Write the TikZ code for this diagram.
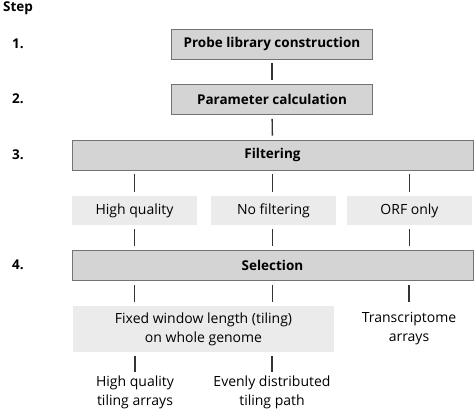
\documentclass[tikz,border=0pt]{standalone}
\usepackage{fontspec}
\setmainfont{Open Sans}
\usepackage{tikz}

\tikzset{
    stepbox/.style={draw=black!55, line width=0.9pt, fill=black!17, font=\fontsize{13.5}{16}\selectfont\bfseries, minimum height=30pt, inner sep=0pt},
    optbox/.style={fill=black!8, minimum width=125pt, minimum height=29pt, inner sep=0pt},
    steplabel/.style={font=\fontsize{13.5}{16}\selectfont\bfseries, inner sep=0pt},
    link/.style={draw=black!80, line width=1.4pt, shorten <=4pt, shorten >=4pt}
}

\begin{document}
\begin{tikzpicture}[x=1pt, y=-1pt, font=\fontsize{14}{19}\selectfont]
    \useasboundingbox (0,0) rectangle (474,415);
	\node[steplabel] (steptitle) at (18,8) {Step};
	\node[steplabel] (s1) at (18,44) {1.};
	\node[steplabel] (s2) at (18,99) {2.};
	\node[steplabel] (s3) at (18,155) {3.};
	\node[steplabel] (s4) at (18,265) {4.};

	\node[stepbox, minimum width=201pt] (probe) at (272,44) {Probe library construction};
	\node[stepbox, minimum width=201pt] (param) at (272,99.5) {Parameter calculation};
	\node[stepbox, minimum width=401pt] (filter) at (272.5,155) {Filtering};
	\node[optbox] (hq) at (134.5,210.5) {High quality};
	\node[optbox] (nofilt) at (273.5,210.5) {No filtering};
	\node[optbox] (orf) at (409.5,210.5) {ORF only};
	\node[stepbox, minimum width=401pt] (select) at (272.5,265.5) {Selection};
	\node[optbox, minimum width=261pt, minimum height=46pt, align=center] (fixed) at (203.5,329) {Fixed window length (tiling)\\on whole genome};
	\node[minimum height=46pt, inner sep=0pt, align=center] (transc) at (409,329) {Transcriptome\\arrays};
	\node[anchor=north, inner sep=0pt, align=center] (hqtile) at (135,376) {High quality\\tiling arrays};
	\node[anchor=north, inner sep=0pt, align=center] (even) at (272,376) {Evenly distributed\\tiling path};

    \draw[link] (probe) -- (param);
    \draw[link] (param) -- (filter);
    \foreach \opt in {hq, orf} {
        \draw[link] (\opt.north |- filter.south) -- (\opt.north);
        \draw[link] (\opt.south) -- (\opt.south |- select.north);
    }
    \draw[link] (filter.south) -- (filter.south |- nofilt.north);
    \draw[link] (filter.south |- nofilt.south) -- (select.north);
    \draw[link] (hq.south |- select.south) -- (hq.south |- fixed.north);
    \draw[link] (select.south) -- (select.south |- fixed.north);
    \draw[link] (transc.north |- select.south) -- (transc.north);
    \draw[link] (hqtile.north |- fixed.south) -- (hqtile.north);
    \draw[link] (even.north |- fixed.south) -- (even.north);
\end{tikzpicture}
\end{document}
